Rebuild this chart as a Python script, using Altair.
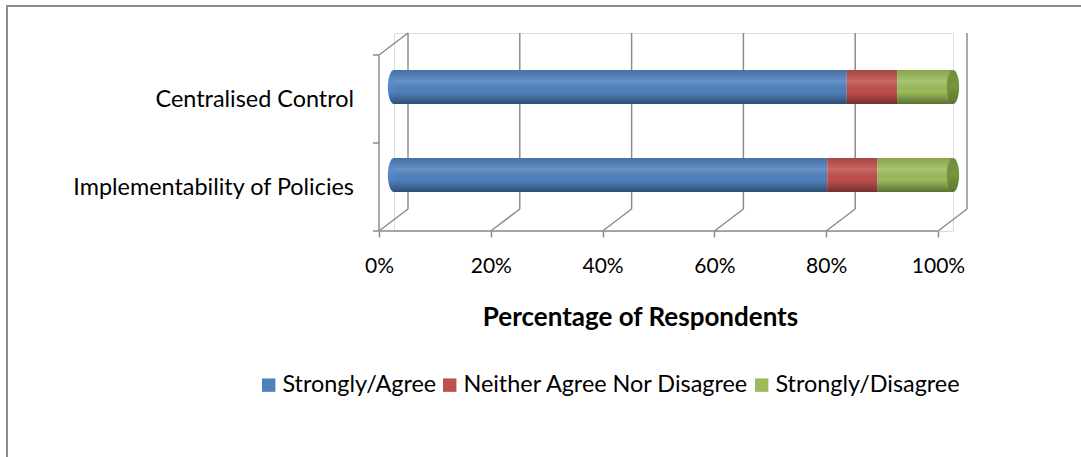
import altair as alt
import pandas as pd

categories = ["Centralised Control", "Implementability of Policies"]
series = ["Strongly/Agree", "Neither Agree Nor Disagree", "Strongly/Disagree"]
agree = [81, 77.5]
neutral = [9, 9]
disagree = [10, 13.5]
series_colors = ["#4f81bd", "#c0504d", "#9bbb59"]
tick_values = [0, 20, 40, 60, 80, 100]
boundaries = [-0.5, 0.5, 1.5]

FONT = "Lato"
GRID = "#8c8c8c"
TEXT_SIZE = 23.4

rows = []
for i, c in enumerate(categories):
    for j, (s, vals) in enumerate(zip(series, [agree, neutral, disagree])):
        rows.append({"category": c, "idx": i, "series": s, "order": j, "value": vals[i]})
df = pd.DataFrame(rows)
cat_df = pd.DataFrame({
    "category": categories,
    "idx": list(range(len(categories))),
    "total": [a + n + d for a, n, d in zip(agree, neutral, disagree)],
})
cat_df["zero"] = 0
tick_df = pd.DataFrame({"t": tick_values, "ytop": -0.5, "ybot": 1.5})
bound_df = pd.DataFrame({"b": boundaries, "x0": 0})
wall_df = pd.DataFrame({"x0": [0], "x1": [100], "ytop": [-0.5], "ybot": [1.5]})
frame_df = pd.DataFrame({"a": [0]})

xscale = alt.Scale(domain=[0, 100], nice=False, zero=True)
yscale = alt.Scale(domain=[0, 1], range=[54, 142])

xaxis = alt.Axis(
    values=tick_values, labelExpr="datum.value + '%'", domain=False, grid=False,
    ticks=True, tickSize=6, tickColor=GRID, tickWidth=1.5, tickOffset=-15,
    labelFlush=False, labelFontSize=21, labelFont=FONT, labelColor="#000000",
    labelPadding=18,
    title="Percentage of Respondents", titleFont=FONT, titleFontSize=26,
    titleFontWeight="bold", titleColor="#000000", titleX=246, titleY=94,
    titleBaseline="alphabetic", titleAlign="center",
)


def X(field):
    return alt.X(field, type="quantitative", scale=xscale, axis=xaxis)


def Y(field):
    return alt.Y(field, type="quantitative", scale=yscale, axis=None)


frame = alt.Chart(frame_df).mark_rect(
    fill="transparent", stroke="#8c8c8c", strokeWidth=2
).encode(
    x=alt.value(-387), x2=alt.value(800), y=alt.value(-27), y2=alt.value(600)
)

back_grid = alt.Chart(tick_df).mark_rule(
    color=GRID, strokeWidth=1.5, xOffset=14, yOffset=-10, y2Offset=-10
).encode(x=X("t"), y=Y("ytop"), y2="ybot:Q")

floor_diag = alt.Chart(tick_df).mark_rule(
    color=GRID, strokeWidth=1.5, xOffset=14, x2Offset=-15, yOffset=-10, y2Offset=12
).encode(x=X("t"), x2="t:Q", y=Y("ybot"), y2="ybot:Q")

front_axis = alt.Chart(wall_df).mark_rule(
    color=GRID, strokeWidth=1.5, xOffset=-15, x2Offset=-15, yOffset=12, y2Offset=12
).encode(x=X("x0"), x2="x1:Q", y=Y("ybot"))

left_wall = alt.Chart(wall_df).mark_rule(
    color=GRID, strokeWidth=1.5, xOffset=-15, yOffset=12, y2Offset=12
).encode(x=X("x0"), y=Y("ytop"), y2="ybot:Q")

wall_diag = alt.Chart(wall_df).mark_rule(
    color=GRID, strokeWidth=1.5, xOffset=14, x2Offset=-15, yOffset=-10, y2Offset=12
).encode(x=X("x0"), x2="x0:Q", y=Y("ytop"), y2="ytop:Q")

left_ticks = alt.Chart(bound_df).mark_rule(
    color=GRID, strokeWidth=1.5, xOffset=-21, x2Offset=-15, yOffset=12, y2Offset=12
).encode(x=X("x0"), x2="x0:Q", y=Y("b"))

ellipse = "M0,-1A0.36,1,0,1,1,0,1A0.36,1,0,1,1,0,-1Z"

left_cap = alt.Chart(cat_df).mark_point(
    shape=ellipse, size=34 * 34, filled=True, strokeWidth=0, opacity=1,
    fill=alt.Gradient(
        gradient="linear", x1=0, x2=0, y1=0, y2=1,
        stops=[
            alt.GradientStop(offset=0, color="#4574ab"),
            alt.GradientStop(offset=0.35, color="#5b8fd4"),
            alt.GradientStop(offset=0.65, color="#4f81bd"),
            alt.GradientStop(offset=1, color="#2c5483"),
        ],
    ),
).encode(x=X("zero"), y=Y("idx"))

bars = alt.Chart(df).transform_stack(
    stack="value", groupby=["category"], as_=["start", "end"],
    sort=[alt.SortField("order")]
).transform_calculate(
    y0="datum.idx - 0.193", y1="datum.idx + 0.193"
).mark_rect().encode(
    x=X("start"), x2="end:Q", y=Y("y0"), y2="y1:Q",
    color=alt.Color(
        "series:N",
        scale=alt.Scale(domain=series, range=series_colors),
        legend=alt.Legend(
            title=None, orient="none", legendX=-137, legendY=340,
            direction="horizontal", symbolType="square", symbolSize=180,
            symbolStrokeWidth=0, labelFontSize=TEXT_SIZE, labelFont=FONT,
            labelColor="#000000", labelOffset=2, columnPadding=1, labelLimit=0,
        ),
    ),
)

shade = alt.Chart(cat_df).transform_calculate(
    y0="datum.idx - 0.193", y1="datum.idx + 0.193"
).mark_rect(
    fill=alt.Gradient(
        gradient="linear", x1=0, x2=0, y1=0, y2=1,
        stops=[
            alt.GradientStop(offset=0, color="rgba(0,0,0,0.12)"),
            alt.GradientStop(offset=0.35, color="rgba(255,255,255,0.14)"),
            alt.GradientStop(offset=0.65, color="rgba(0,0,0,0)"),
            alt.GradientStop(offset=1, color="rgba(0,0,0,0.4)"),
        ],
    )
).encode(x=X("zero"), x2="total:Q", y=Y("y0"), y2="y1:Q")

right_cap = alt.Chart(cat_df).mark_point(
    shape=ellipse, size=34 * 34, filled=True, strokeWidth=0, opacity=1,
    fill=alt.Gradient(
        gradient="linear", x1=0, x2=0, y1=0, y2=1,
        stops=[
            alt.GradientStop(offset=0, color="#6f8c3a"),
            alt.GradientStop(offset=0.5, color="#77953d"),
            alt.GradientStop(offset=1, color="#5a7330"),
        ],
    ),
).encode(x=X("total"), y=Y("idx"))

cat_labels = alt.Chart(cat_df).mark_text(
    align="right", baseline="middle", fontSize=TEXT_SIZE, font=FONT,
    color="#000000", yOffset=13,
).encode(x=alt.value(-40), y=Y("idx"), text="category:N")

chart = alt.layer(
    frame, back_grid, floor_diag, front_axis, left_wall, wall_diag, left_ticks,
    left_cap, bars, shade, right_cap, cat_labels,
).properties(
    width=559, height=198, autosize="none",
    padding={"left": 394, "top": 33, "right": 128, "bottom": 226},
).configure_view(stroke=None).configure(font=FONT, background="#ffffff")

chart.save("out.html", embed_options={"renderer": "svg", "actions": False})
